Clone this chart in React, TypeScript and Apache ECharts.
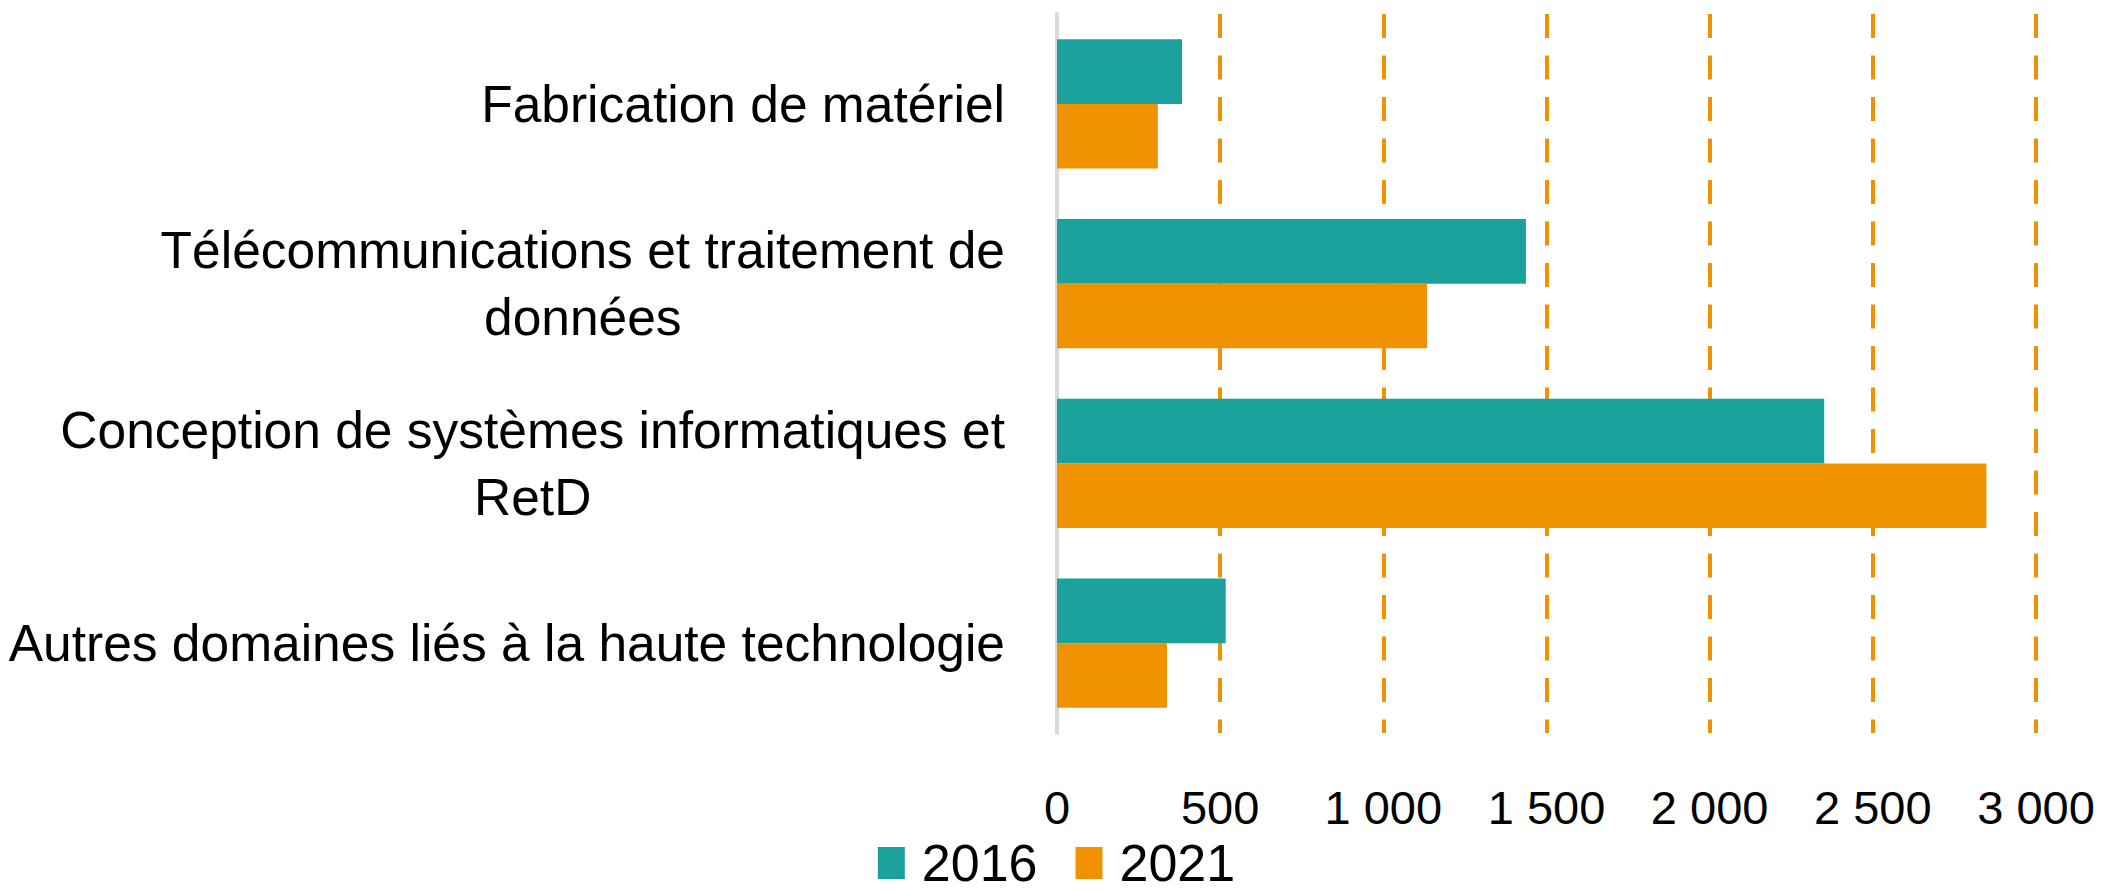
import React, { useEffect, useRef } from "react";
import * as echarts from "echarts";

const categories = [
  "Fabrication de matériel",
  "Télécommunications et traitement de\ndonnées",
  "Conception de systèmes informatiques et\nRetD",
  "Autres domaines liés à la haute technologie",
];
const seriesNames = ["2016", "2021"];
const values2016 = [383, 1437, 2351, 517];
const values2021 = [309, 1134, 2848, 337];
const tickLabels = ["0", "500", "1 000", "1 500", "2 000", "2 500", "3 000"];

const TEAL = "#1AA19B";
const ORANGE = "#F09200";
const FONT = "'Liberation Sans', Arial, sans-serif";

export default function App() {
  const ref = useRef<HTMLDivElement>(null);
  useEffect(() => {
    document.body.style.margin = "0";
    if (!ref.current) return;
    const chart = echarts.init(ref.current, undefined, { renderer: "svg" });
    chart.setOption({
      animation: false,
      backgroundColor: "#ffffff",
      grid: { left: 1057, right: 77, top: 14, bottom: 158, containLabel: false },
      legend: {
        data: seriesNames,
        bottom: 0,
        left: "center",
        padding: 0,
        itemWidth: 27,
        itemHeight: 32,
        itemGap: 38,
        icon: "rect",
        textStyle: { fontFamily: FONT, fontSize: 52, color: "#000", lineHeight: 56, padding: [0, 0, 0, 12] },
      },
      xAxis: {
        type: "value",
        min: 0,
        max: 3000,
        interval: 500,
        axisLine: { show: false },
        axisTick: { show: false },
        axisLabel: {
          margin: 46,
          fontFamily: FONT,
          fontSize: 47,
          color: "#000",
          lineHeight: 56,
          formatter: (v: number) => tickLabels[Math.round(v / 500)] ?? String(v),
        },
        splitLine: {
          show: true,
          lineStyle: {
            color: ["rgba(0,0,0,0)", ORANGE, ORANGE, ORANGE, ORANGE, ORANGE, ORANGE],
            width: 4,
            type: [24, 17.5],
          },
        },
      },
      yAxis: {
        type: "category",
        inverse: true,
        data: categories,
        axisTick: { show: false },
        axisLine: { show: true, onZero: false, lineStyle: { color: "#D9D9D9", width: 4 } },
        splitLine: { show: false },
        axisLabel: {
          margin: 52,
          interval: 0,
          formatter: (v: string) => v.split("\n").map((l) => `{c|${l}}`).join("\n"),
          rich: {
            c: { align: "center", fontFamily: FONT, fontSize: 51.5, lineHeight: 67, color: "#000" },
          },
        },
      },
      series: [
        {
          name: seriesNames[0],
          type: "bar",
          data: values2016,
          itemStyle: { color: TEAL },
          barGap: "0%",
          barCategoryGap: "28%",
        },
        {
          name: seriesNames[1],
          type: "bar",
          data: values2021,
          itemStyle: { color: ORANGE },
          barGap: "0%",
          barCategoryGap: "28%",
        },
      ],
    });
    return () => chart.dispose();
  }, []);
  return <div ref={ref} style={{ width: 2113, height: 891 }} />;
}
